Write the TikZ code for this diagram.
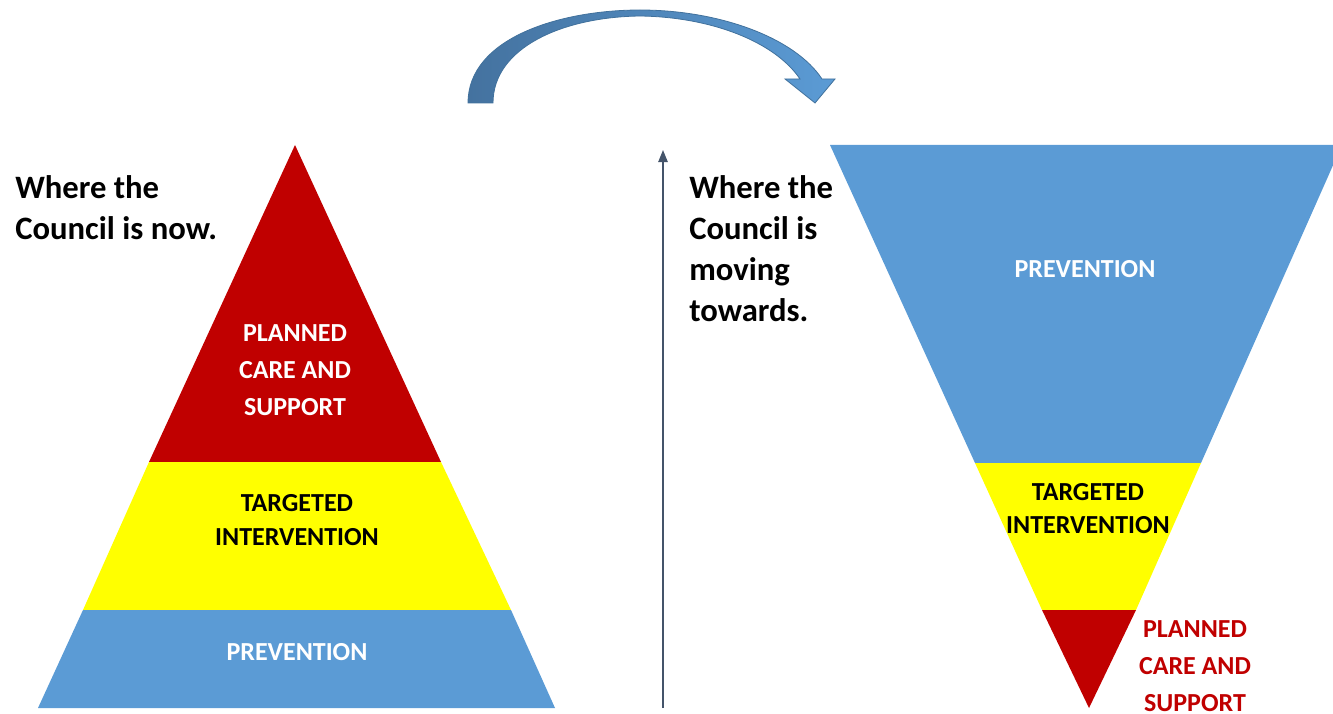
\documentclass[tikz,border=0pt]{standalone}
\usepackage{fontspec}
\setmainfont{Carlito}
\usepackage{xcolor}
\usetikzlibrary{arrows.meta, positioning}

\definecolor{carered}{HTML}{C00000}
\definecolor{targetyellow}{HTML}{FFFF00}
\definecolor{prevblue}{HTML}{5B9BD5}
\definecolor{arcdark}{HTML}{44729F}
\definecolor{arcedge}{HTML}{41719C}
\definecolor{axisgray}{HTML}{44546A}

\begin{document}
\begin{tikzpicture}[
    x=0.75pt, y=-0.75pt,
    band/.style={fill=#1, draw=none},
    heading/.style={inner sep=0pt, anchor=west, align=left, font=\bfseries\fontsize{24.5}{30.75}\selectfont},
    tier/.style={inner sep=0pt, align=center, text=#1, font=\bfseries\fontsize{19.5}{27.5}\selectfont},
    axis/.style={-{Triangle[length=9pt, width=7pt]}, line width=1.1pt, color=axisgray},
]
\clip (0,0) rectangle (1333,713);

% Pyramid: the council now
\fill[band=carered] (295,145) -- (441,462) -- (149,462) -- cycle;
\fill[band=targetyellow] (149,462) -- (441,462) -- (511,610) -- (83,610) -- cycle;
\fill[band=prevblue] (83,610) -- (511,610) -- (555,708) -- (38,708) -- cycle;

% Inverted pyramid: where it is heading
\fill[band=prevblue] (830,145) -- (1342,145) -- (1201,463) -- (975,463) -- cycle;
\fill[band=targetyellow] (975,463) -- (1201,463) -- (1136,610) -- (1042,610) -- cycle;
\fill[band=carered] (1042,610) -- (1136,610) -- (1089,708) -- cycle;

% Curved block arrow over the top
\shade[left color=arcdark, right color=prevblue, draw=arcedge, line width=0.6pt]
    (468,103) .. controls (468,38) and (560,10) .. (640,10)
    .. controls (720,10) and (795,38) .. (822,79)
    -- (835,79) -- (815,103) -- (785,79) -- (800,79)
    .. controls (775,42) and (712,17) .. (640,16)
    .. controls (562,17) and (493,48) .. (493,103) -- cycle;

% Vertical axis
\coordinate (axisbottom) at (663,708);
\coordinate (axistop) at (663,150);
\draw[axis] (axisbottom) -- (axistop);

% Headings
\node[heading] (nowtext) at (15,208) {Where the\\Council is now.};
\node[heading] (movingtext) at (689,249) {Where the\\Council is\\moving\\towards.};

% Left tier labels
\node[tier=white] (leftcare) at (295,370) {PLANNED\\CARE AND\\SUPPORT};
\node[tier=black, font=\bfseries\fontsize{19.5}{25.5}\selectfont] (lefttarget) at (297,520) {TARGETED\\INTERVENTION};
\node[tier=white] (leftprev) at (297,652) {PREVENTION};

% Right tier labels
\node[tier=white] (rightprev) at (1085,269) {PREVENTION};
\node[tier=black, font=\bfseries\fontsize{19.5}{24.75}\selectfont] (righttarget) at (1088,509) {TARGETED\\INTERVENTION};
\node[tier=carered] (rightcare) at (1195,666) {PLANNED\\CARE AND\\SUPPORT};

\end{tikzpicture}
\end{document}
